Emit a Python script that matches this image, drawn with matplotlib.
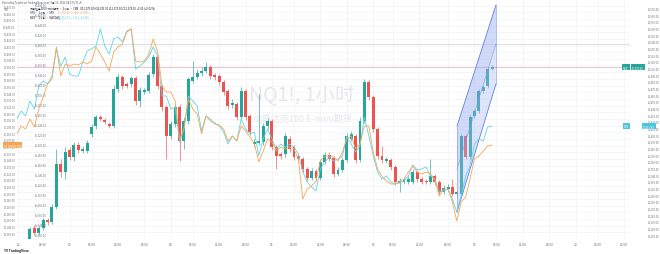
import numpy as np
import matplotlib
matplotlib.use("Agg")
import matplotlib.pyplot as plt
from matplotlib.transforms import blended_transform_factory
from matplotlib.patches import Polygon

plt.rcParams['font.family'] = ['Noto Sans CJK SC', 'DejaVu Sans']

# NQ1! 1h candles
opens = [12120, 12136.5, 12129, 12136.5, 12148.5, 12145.5, 12168, 12232.5, 12220.5, 12253.5,
         12243, 12261, 12252, 12252, 12277.5, 12289.5, 12303, 12298.5, 12292.5, 12289.5,
         12345, 12363, 12352.5, 12352.5, 12361.5, 12327, 12340.5, 12342, 12367.5, 12393,
         12349.5, 12318, 12274.5, 12292.5, 12318, 12267, 12297, 12357, 12363, 12369,
         12372, 12378, 12366, 12364.5, 12355.5, 12342, 12321, 12322.5, 12303, 12342,
         12304.5, 12262.5, 12264, 12265.5, 12289.5, 12297, 12258, 12247.5, 12247.5, 12270,
         12258, 12244.5, 12240, 12225, 12211.5, 12222, 12211.5, 12235.5, 12246, 12241.5,
         12217.5, 12223.5, 12238.5, 12270, 12274.5, 12238.5, 12297, 12355.5, 12333, 12285,
         12244.5, 12237, 12238.5, 12228, 12204, 12205.5, 12205.5, 12205.5, 12220.5, 12210,
         12207, 12205.5, 12214.5, 12205.5, 12190.5, 12195, 12198, 12187.5, 12187.5, 12274.5,
         12243, 12304.5, 12312, 12342, 12349.5, 12375]
highs = [12138, 12141, 12139.5, 12151.5, 12151.5, 12172.5, 12255, 12240, 12258, 12258,
         12265.5, 12265.5, 12259.5, 12268.5, 12292.5, 12306, 12306, 12301.5, 12295.5, 12351,
         12367.5, 12366, 12355.5, 12364.5, 12364.5, 12348, 12346.5, 12370.5, 12397.5, 12396,
         12352.5, 12321, 12297, 12322.5, 12322.5, 12303, 12363, 12387, 12375, 12378,
         12385.5, 12381, 12369, 12367.5, 12358.5, 12345, 12330, 12325.5, 12348, 12345,
         12307.5, 12270, 12337.5, 12294, 12301.5, 12300, 12261, 12250.5, 12279, 12274.5,
         12261, 12247.5, 12243, 12228, 12226.5, 12225, 12240, 12250.5, 12250.5, 12244.5,
         12228, 12243, 12279, 12282, 12277.5, 12303, 12360, 12358.5, 12336, 12288,
         12259.5, 12243, 12241.5, 12231, 12211.5, 12213, 12214.5, 12225, 12223.5, 12213,
         12210, 12240, 12217.5, 12208.5, 12201, 12202.5, 12210, 12193.5, 12277.5, 12277.5,
         12306, 12315, 12345, 12351, 12378, 12381]
lows = [12115.5, 12126, 12126, 12133.5, 12141, 12142.5, 12165, 12213, 12210, 12238.5,
        12237, 12249, 12249, 12249, 12273, 12285, 12297, 12292.5, 12286.5, 12286.5,
        12340.5, 12345, 12346.5, 12348, 12321, 12318, 12337.5, 12339, 12363, 12345,
        12312, 12240, 12270, 12288, 12237, 12255, 12292.5, 12354, 12360, 12364.5,
        12369, 12360, 12358.5, 12351, 12336, 12315, 12316.5, 12298.5, 12300, 12298.5,
        12276, 12258, 12261, 12261, 12285, 12253.5, 12225, 12240, 12243, 12250.5,
        12238.5, 12235.5, 12220.5, 12207, 12208.5, 12207, 12208.5, 12232.5, 12237, 12213,
        12214.5, 12220.5, 12235.5, 12267, 12234, 12235.5, 12294, 12328.5, 12280.5, 12240,
        12234, 12234, 12223.5, 12201, 12190.5, 12202.5, 12202.5, 12202.5, 12205.5, 12202.5,
        12202.5, 12202.5, 12201, 12186, 12187.5, 12192, 12184.5, 12184.5, 12184.5, 12240,
        12240, 12301.5, 12309, 12339, 12346.5, 12373.5]
closes = [12135, 12129, 12136.5, 12148.5, 12145.5, 12168, 12232.5, 12220.5, 12250.5, 12243,
          12261, 12253.5, 12255, 12264, 12288, 12303, 12300, 12295.5, 12289.5, 12345,
          12363, 12349.5, 12349.5, 12361.5, 12327, 12343.5, 12343.5, 12366, 12393, 12349.5,
          12318, 12274.5, 12292.5, 12318, 12267, 12297, 12360, 12363, 12369, 12372,
          12378, 12364.5, 12363, 12355.5, 12340.5, 12319.5, 12324, 12303, 12342, 12303,
          12280.5, 12265.5, 12267, 12289.5, 12297, 12258, 12244.5, 12244.5, 12274.5, 12255,
          12243, 12240, 12225, 12211.5, 12222, 12211.5, 12235.5, 12246, 12240, 12217.5,
          12223.5, 12238.5, 12274.5, 12277.5, 12238.5, 12297, 12355.5, 12333, 12285, 12244.5,
          12238.5, 12240, 12228, 12205.5, 12207, 12208.5, 12210, 12220.5, 12210, 12205.5,
          12205.5, 12214.5, 12205.5, 12190.5, 12196.5, 12198, 12187.5, 12190.5, 12274.5, 12243,
          12303, 12312, 12342, 12348, 12375, 12378]

# two comparison symbols, they start 3 bars before the first candle
cyan_vals = [11423, 11435, 11427.5, 11450, 11438, 11472.5, 11480, 11475.5, 11483, 11528,
             11502.5, 11516, 11490.5, 11487.5, 11487.5, 11508.5, 11525, 11528, 11532.5, 11558,
             11532.5, 11520.5, 11543, 11546, 11538.5, 11555, 11558, 11498, 11502.5, 11508.5,
             11516, 11531, 11517.5, 11457.5, 11457.5, 11438, 11441, 11388.5, 11408, 11457.5,
             11450, 11442.5, 11405, 11427.5, 11423, 11417, 11412.5, 11403.5, 11385.5, 11397.5,
             11390, 11423, 11408, 11400.5, 11403.5, 11367.5, 11393, 11408, 11393, 11378,
             11385.5, 11381, 11385.5, 11381, 11370.5, 11343.5, 11328.5, 11321, 11315, 11348,
             11358.5, 11366, 11360, 11363, 11367.5, 11397.5, 11385.5, 11373.5, 11382.5, 11426,
             11397.5, 11367.5, 11343.5, 11333, 11337.5, 11328.5, 11325.5, 11327, 11330, 11337.5,
             11354, 11346.5, 11348, 11351, 11337.5, 11333, 11313.5, 11315, 11318, 11303,
             11283.5, 11307.5, 11337.5, 11352.5, 11385.5, 11393, 11390, 11411, 11412.5]
orange_vals = [15220, 15236, 15230, 15250, 15234, 15270, 15294, 15320, 15336, 15394,
               15336, 15360, 15356, 15360, 15358, 15364, 15360, 15366, 15394, 15380,
               15364, 15346, 15384, 15394, 15400, 15424, 15430, 15366, 15364, 15366,
               15380, 15410, 15386, 15316, 15304, 15304, 15286, 15210, 15230, 15290,
               15270, 15260, 15220, 15256, 15246, 15240, 15238, 15230, 15206, 15216,
               15206, 15236, 15226, 15214, 15200, 15164, 15186, 15210, 15204, 15186,
               15194, 15190, 15194, 15190, 15170, 15090, 15110, 15116, 15126, 15166,
               15176, 15176, 15174, 15166, 15184, 15210, 15216, 15190, 15200, 15236,
               15236, 15184, 15150, 15136, 15126, 15120, 15120, 15124, 15130, 15144,
               15156, 15144, 15140, 15144, 15140, 15130, 15096, 15110, 15110, 15084,
               15046, 15084, 15094, 15130, 15170, 15176, 15186, 15196, 15198]

# parallel channel drawing (bar index, price)
chan_x = [98.05, 106.9]
chan_top = [12289.5, 12471]
chan_mid = [12225, 12412.5]
chan_bot = [12160.5, 12352.5]
gray_level = 12412.5

time_ticks = [-1.7, 4, 10, 15, 21, 27, 33, 38, 44, 50, 56, 61, 67, 73, 79, 83.5,
              89.5, 96, 102, 107, 113, 119, 125, 130, 136]
time_labels = ['12', '18:00', '13', '06:00', '12:00', '18:00', '14', '06:00', '12:00',
               '18:00', '15', '06:00', '12:00', '18:00', '16', '06:00', '12:00', '18:00',
               '19', '06:00', '12:00', '18:00', '20', '06:00', '12:00']

UP = '#26a69a'
DOWN = '#ef5350'
CYAN = '#63d3e6'
ORANGE = '#f5a654'
TXT = '#6a6d78'

W, H = 660, 255
fig = plt.figure(figsize=(6.6, 2.55), dpi=100)
ax = fig.add_axes([17 / W, 15 / H, 613 / W, 240 / H])
ax.set_facecolor('white')

opens = np.array(opens); closes = np.array(closes)
highs = np.array(highs); lows = np.array(lows)
xs = np.arange(1, len(opens) + 1)
cols = np.where(closes >= opens, UP, DOWN)

ax.vlines(xs, lows, highs, colors=cols, lw=0.45, zorder=3)
ax.bar(xs, np.maximum(np.abs(closes - opens), 0.9), bottom=np.minimum(opens, closes),
       width=0.68, color=cols, linewidth=0, zorder=4)

# channel
poly_up = Polygon([(chan_x[0], chan_mid[0]), (chan_x[0], chan_top[0]), (chan_x[1], chan_top[1]),
                   (chan_x[1], chan_mid[1])], closed=True, facecolor='#8fa6ee', alpha=0.42,
                  edgecolor='none', zorder=5)
poly_dn = Polygon([(chan_x[0], chan_bot[0]), (chan_x[0], chan_mid[0]), (chan_x[1], chan_mid[1]),
                   (chan_x[1], chan_bot[1])], closed=True, facecolor='#a9bcf2', alpha=0.38,
                  edgecolor='none', zorder=5)
ax.add_patch(poly_up)
ax.add_patch(poly_dn)
for yy in (chan_top, chan_bot):
    ax.plot(chan_x, yy, color='#5c7fe6', lw=0.6, zorder=6)
ax.plot(chan_x, chan_mid, color='#7d96ea', lw=0.4, zorder=6)
ax.plot([chan_x[0], chan_x[0]], [chan_bot[0], chan_top[0]], color='#7d96ea', lw=0.4, zorder=6)
ax.plot([chan_x[1], chan_x[1]], [chan_bot[1], chan_top[1]], color='#7d96ea', lw=0.4, zorder=6)

ax.axhline(closes[-1], color='#f2b8c4', lw=0.6, zorder=2)
ax.axhline(gray_level, color='#d6d8de', lw=0.6, zorder=2)

ax.set_xlim(-1.95, 137.36)
ax.set_ylim(12120, 12480)
ax.yaxis.tick_right()
ax.set_yticks(np.arange(12130, 12480, 10))
ax.set_yticklabels(['{:,.2f}'.format(v) for v in np.arange(12130, 12480, 10)])
ax.tick_params(axis='y', length=0, pad=1.2, labelsize=1.9, labelcolor=TXT)
ax.set_xticks(time_ticks)
ax.set_xticklabels(time_labels)
ax.tick_params(axis='x', length=0, pad=2.5, labelsize=2.3, labelcolor=TXT)
ax.grid(True, color='#f2f3f6', lw=0.5, zorder=0)
for s in ax.spines.values():
    s.set_visible(False)

# cyan symbol on the second right scale
ax_c = ax.twinx()
ax_c.set_ylim(11243, 11603)
ax_c.plot(np.arange(-2, len(cyan_vals) - 2), cyan_vals, color=CYAN, lw=0.6, zorder=7)
ax_c.spines['right'].set_position(('outward', 11.5))
ctk = np.arange(11250, 11600, 10)
ax_c.set_yticks(ctk)
ax_c.set_yticklabels(['{:,.2f}'.format(v) for v in ctk])
ax_c.tick_params(axis='y', length=0, pad=1.2, labelsize=1.9, labelcolor=TXT)
for s in ax_c.spines.values():
    s.set_visible(False)

# orange symbol on the left scale
ax_o = ax.twinx()
ax_o.set_ylim(15010, 15490)
ax_o.plot(np.arange(-2, len(orange_vals) - 2), orange_vals, color=ORANGE, lw=0.6, zorder=7)
ax_o.yaxis.tick_left()
otk = np.arange(15020, 15490, 20)
ax_o.set_yticks(otk)
ax_o.set_yticklabels(['{:,.2f}'.format(v) for v in otk])
ax_o.tick_params(axis='y', length=0, pad=-13, labelsize=1.9, labelcolor=TXT)
for lab in ax_o.get_yticklabels():
    lab.set_horizontalalignment('left')
for s in ax_o.spines.values():
    s.set_visible(False)

# price tags
tr_main = blended_transform_factory(ax.transAxes, ax.transData)
tr_c = blended_transform_factory(ax.transAxes, ax_c.transData)
tr_o = blended_transform_factory(ax.transAxes, ax_o.transData)
ax.text(0.998, closes[-1], 'NQ1!', transform=tr_main, ha='right', va='center', fontsize=1.9,
        color='white', zorder=10, bbox=dict(boxstyle='square,pad=0.35', fc=UP, ec='none'),
        clip_on=False)
ax.text(1.003, closes[-1], '{:,.2f}'.format(closes[-1]), transform=tr_main, ha='left',
        va='center', fontsize=1.9, color='white', zorder=10,
        bbox=dict(boxstyle='square,pad=0.35', fc=UP, ec='none'), clip_on=False)
ax_c.text(0.998, cyan_vals[-1], 'NDX', transform=tr_c, ha='right', va='center', fontsize=1.9,
          color='white', zorder=10, bbox=dict(boxstyle='square,pad=0.35', fc='#4cc6dc', ec='none'),
          clip_on=False)
ax_c.text(1.021, cyan_vals[-1], '{:,.2f}'.format(cyan_vals[-1]), transform=tr_c, ha='left',
          va='center', fontsize=1.9, color='white', zorder=10,
          bbox=dict(boxstyle='square,pad=0.35', fc='#4cc6dc', ec='none'), clip_on=False)
ax_o.text(-0.022, orange_vals[-1], '{:,.2f}  SPX'.format(orange_vals[-1]), transform=tr_o,
          ha='left', va='center', fontsize=1.9, color='white', zorder=10,
          bbox=dict(boxstyle='square,pad=0.35', fc=ORANGE, ec='none'), clip_on=False)

# watermark
ax.text(0.465, 0.605, 'NQ1!, 1小时', transform=ax.transAxes, ha='center', va='center',
        fontsize=14, color='#9598a1', alpha=0.25, zorder=1)
ax.text(0.465, 0.505, '纳斯达克100 E-mini期货', transform=ax.transAxes, ha='center',
        va='center', fontsize=6.5, color='#9598a1', alpha=0.25, zorder=1)

# header / legend
fig.text(2 / W, 1 - 3 / H, 'Posted by Trader on TradingView.com, 9月 19, 2022 04:37 UTC+8',
         fontsize=1.9, color='#4a4d57', va='center')
fig.text(4 / W, 1 - 10 / H, 'USD', fontsize=1.9, color=TXT, va='center')
fig.text(30 / W, 1 - 8 / H, '纳斯达克100 E-mini期货 · 1小时 · CME   O12,375.00 H12,381.00 '
         'L12,373.50 C12,378.00 +3.00 (+0.02%)', fontsize=1.9, color='#131722', va='center')
fig.text(30 / W, 1 - 12.5 / H, 'SPX · 1小时 · SPX', fontsize=1.9, color='#131722', va='center')
fig.text(58 / W, 1 - 12.5 / H, '15,198.00  +2.00 (+0.01%)', fontsize=1.9, color=ORANGE,
         va='center')
fig.text(30 / W, 1 - 17 / H, 'NDX · 1小时 · NASDAQ', fontsize=1.9, color='#131722', va='center')
fig.text(58 / W, 1 - 17 / H, '11,412.50  +1.50 (+0.01%)', fontsize=1.9, color=CYAN,
         va='center')
fig.text(4 / W, 1 - 251 / H, 'TV TradingView', fontsize=2.3, color='#131722', va='center',
         weight='bold')

fig.savefig('out.png', dpi=100)
